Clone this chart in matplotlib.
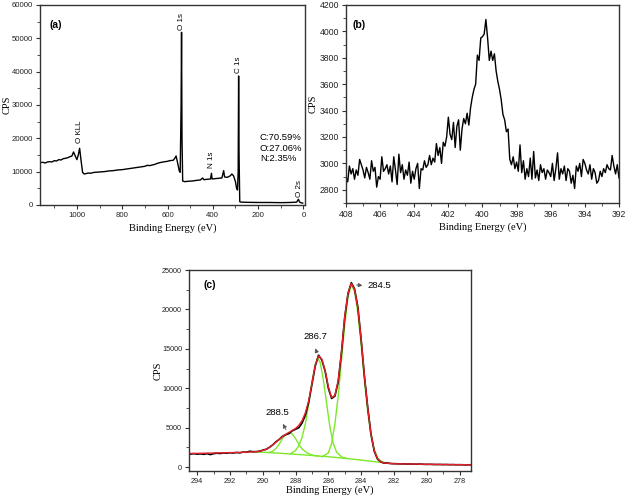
import numpy as np
import matplotlib
matplotlib.use("Agg")
import matplotlib.pyplot as plt
from matplotlib.ticker import MultipleLocator

# ─── (a) survey spectrum ───────────────────────────────────────────
survey_be = [1163, 1150, 1140, 1130, 1120, 1110, 1100, 1090, 1080, 1070,
             1060, 1050, 1040, 1030, 1022, 1015, 1008, 1000, 994, 988,
             982, 975, 968, 960, 950, 940, 930, 920, 900, 880,
             860, 840, 820, 800, 780, 760, 740, 720, 700, 690,
             680, 660, 640, 620, 600, 590, 575, 568, 562, 555,
             548, 544, 540, 538, 536, 533, 525, 510, 490, 470,
             455, 445, 440, 425, 410, 406, 403, 390, 375, 360,
             352, 348, 335, 322, 316, 308, 300, 295, 291, 288,
             286, 284, 281, 275, 250, 200, 150, 100, 60, 30,
             22, 17, 10, 3]
survey_cps = [12700, 12800, 12600, 12900, 13000, 12900, 13300, 13200, 13600, 13500,
              13900, 14000, 14200, 14500, 14700, 15900, 14800, 13600, 15000, 17000,
              13500, 9800, 9300, 9400, 9600, 9500, 9700, 9800, 9900, 10000,
              10200, 10300, 10500, 10600, 10800, 11000, 11200, 11400, 11600, 11900,
              11800, 12100, 12600, 12900, 13100, 13300, 13400, 14000, 14700, 12500,
              10200, 9800, 30000, 51800, 20000, 7200, 7000, 7100, 7200, 7400,
              7500, 8100, 7600, 7700, 7800, 9500, 7800, 7900, 8000, 8100,
              10300, 8400, 8300, 8800, 9300, 8700, 7000, 5000, 4500, 10000,
              38700, 15000, 1000, 850, 800, 750, 750, 700, 750, 850,
              1700, 900, 650, 550]
survey_labels = ["O KLL", "O 1s", "N 1s", "C 1s", "O 2s"]
survey_label_be = [988, 538, 405, 285, 19]
survey_label_cps = [18500, 52500, 11000, 39500, 2300]
composition = ["C:70.59%", "O:27.06%", "N:2.35%"]

# ─── (b) N 1s high resolution ──────────────────────────────────────
n1s_be = np.round(np.arange(408.0, 391.95, -0.1), 1)
n1s_cps = [2900, 2860, 2980, 2920, 2960, 2880, 2950, 2910, 3030, 2990,
           2950, 2890, 2970, 2930, 2880, 3020, 2940, 2970, 2820, 2900,
           2880, 3050, 2940, 2960, 2990, 2920, 2980, 2860, 3050, 2950,
           2840, 3070, 2930, 2990, 2880, 2950, 2910, 3010, 2850, 2940,
           2880, 2960, 3000, 2810, 2960, 2950, 3020, 2970, 2990, 3060,
           2990, 3040, 3010, 3150, 3060, 3120, 3000, 3160, 3130, 3200,
           3350, 3220, 3180, 3310, 3120, 3280, 3330, 3100, 3260, 3340,
           3300, 3380, 3290, 3420, 3500, 3560, 3600, 3820, 3780, 3950,
           3960, 3980, 4090, 3950, 3780, 3850, 3780, 3830, 3700, 3620,
           3560, 3480, 3370, 3330, 3240, 3260, 3030, 2990, 3050, 2960,
           3010, 2940, 3140, 2930, 3020, 2880, 2960, 2900, 3040, 2880,
           3090, 2890, 2950, 2870, 2990, 2930, 2960, 2880, 2950, 2930,
           2900, 3000, 2870, 2960, 3080, 2880, 2960, 2920, 2980, 2870,
           2960, 2940, 2850, 2910, 2810, 2980, 2940, 3000, 2900, 3030,
           3000, 2950, 2920, 2990, 2880, 2960, 2930, 2850, 2870, 2940,
           2900, 2960, 2930, 2990, 2960, 2950, 3060, 2980, 2920, 2990,
           2890]

# ─── (c) C 1s high resolution + fit ────────────────────────────────
c1s_be = np.round(np.arange(295.0, 276.95, -0.2), 1)
c1s_cps = [1750, 1700, 1720, 1650, 1700, 1640, 1680, 1620, 1700, 1580,
           1700, 1760, 1720, 1800, 1760, 1820, 1780, 1850, 1800, 1900,
           1880, 2000, 1950, 1960, 2000, 2150, 2250, 2500, 2800, 3200,
           3500, 3900, 4100, 4250, 4600, 4800, 5000, 5600, 6600, 8200,
           10500, 12800, 14200, 13600, 12200, 10000, 8700, 9000, 10800, 14500,
           19000, 22000, 23400, 22600, 20300, 16200, 11500, 7600, 4200, 2000,
           1000, 650, 500, 520, 450, 430, 420, 400, 410, 380,
           390, 370, 360, 380, 350, 340, 350, 330, 320, 330,
           310, 320, 300, 310, 290, 300, 290, 280, 290, 280,
           270]

fit_be = [295.0, 294.0, 293.0, 292.0, 291.0, 290.4, 290.0,
          289.8, 289.6, 289.4, 289.2, 289.0, 288.8, 288.6, 288.4, 288.2, 288.0,
          287.8, 287.6, 287.4, 287.2, 287.0, 286.8, 286.6, 286.4, 286.2, 286.0,
          285.8, 285.6, 285.4, 285.2, 285.0, 284.8, 284.6, 284.4, 284.2, 284.0,
          283.8, 283.6, 283.4, 283.2, 283.0, 282.8, 282.6, 282.4,
          282.0, 280.0, 277.0]
fit_env = [1720, 1740, 1780, 1830, 1890, 1950, 2100,
           2250, 2480, 2800, 3150, 3500, 3850, 4150, 4400, 4650, 4900,
           5300, 5900, 6900, 8400, 10600, 12900, 14100, 13700, 12300, 10200,
           8800, 9100, 11000, 14600, 19100, 22100, 23300, 22500, 20200, 16200,
           11600, 7500, 4200, 2100, 1050, 640, 520, 470,
           420, 350, 280]

bg_be = [290.8, 290.0, 289.0, 288.0, 287.0, 286.0, 285.0, 284.0, 283.0, 282.4]
bg_cps = [1980, 1880, 1760, 1620, 1470, 1310, 1110, 890, 640, 500]

p1_be = [289.6, 289.4, 289.2, 289.0, 288.8, 288.6, 288.4, 288.2, 288.0,
         287.8, 287.6, 287.3, 287.0, 286.6]
p1_cps = [1850, 2000, 2350, 2900, 3600, 4150, 4380, 4200, 3600,
          2900, 2300, 1800, 1520, 1380]

p2_be = [288.3, 288.0, 287.8, 287.6, 287.4, 287.2, 287.0, 286.8, 286.65,
         286.5, 286.3, 286.1, 285.9, 285.7, 285.5, 285.2, 284.9]
p2_cps = [1700, 2100, 2700, 3800, 5500, 8000, 10800, 13000, 13800,
          13300, 11000, 8000, 5000, 3000, 1900, 1300, 1100]

p3_be = [286.4, 286.0, 285.8, 285.6, 285.4, 285.2, 285.0, 284.8, 284.6, 284.4,
         284.2, 284.0, 283.8, 283.6, 283.4, 283.2, 283.0, 282.8, 282.6]
p3_cps = [1280, 1800, 3000, 5500, 9000, 13500, 18000, 21600, 23100, 22300,
          19500, 15500, 11000, 7000, 4000, 2200, 1200, 750, 600]

peak_text = ["284.5", "286.7", "288.5"]

serif = ["Liberation Serif", "DejaVu Serif"]
sans = ["Liberation Sans", "DejaVu Sans"]
plt.rcParams['font.family'] = sans


def style_axes(ax, ticksize, xlab_y, ylab_x):
    for s in ax.spines.values():
        s.set_color('#333333')
        s.set_linewidth(1.0)
    ax.tick_params(which='both', direction='out', top=False, right=False,
                   colors='#333333', labelcolor='#222222')
    ax.tick_params(which='major', length=3, width=0.8, labelsize=ticksize, pad=2)
    ax.tick_params(which='minor', length=2, width=0.6)
    ax.set_ylabel('CPS', family=serif, fontsize=7.5)
    ax.set_xlabel('Binding Energy (eV)', family=serif, fontsize=7.5)
    # label coords: top of x label, right edge of y label (axes fraction)
    ax.xaxis.set_label_coords(0.5, xlab_y)
    ax.yaxis.set_label_coords(ylab_x, 0.5)


fig = plt.figure(figsize=(6.27, 4.98), dpi=100)

# (a)
ax_a = fig.add_axes([0.0638, 0.5884, 0.4226, 0.4016])
ax_a.plot(survey_be, survey_cps, color='black', lw=1.0)
ax_a.set_xlim(1163, -7)
ax_a.set_ylim(0, 60000)
ax_a.xaxis.set_major_locator(MultipleLocator(200))
ax_a.xaxis.set_minor_locator(MultipleLocator(100))
ax_a.yaxis.set_major_locator(MultipleLocator(10000))
ax_a.yaxis.set_minor_locator(MultipleLocator(5000))
style_axes(ax_a, 5.6, -0.09, -0.108)
for lab, bx, by in zip(survey_labels, survey_label_be, survey_label_cps):
    ax_a.text(bx, by, lab, rotation=90, ha='center', va='bottom', fontsize=5.8)
ax_a.text(192, 21500, "\n".join(composition), ha='left', va='top',
          fontsize=6.8, linespacing=1.2)
ax_a.text(1121, 54000, '(a)', fontweight='bold', fontsize=7.5, va='center')

# (b)
ax_b = fig.add_axes([0.5518, 0.5924, 0.4354, 0.3976])
ax_b.plot(n1s_be, n1s_cps, color='black', lw=1.0)
ax_b.set_xlim(408, 392)
ax_b.set_ylim(2700, 4200)
ax_b.xaxis.set_major_locator(MultipleLocator(2))
ax_b.xaxis.set_minor_locator(MultipleLocator(1))
ax_b.yaxis.set_major_locator(MultipleLocator(200))
ax_b.yaxis.set_minor_locator(MultipleLocator(100))
style_axes(ax_b, 6.2, -0.10, -0.103)
ax_b.text(407.6, 4050, '(b)', fontweight='bold', fontsize=7.5, va='center')

# (c)
ax_c = fig.add_axes([0.3014, 0.0542, 0.4498, 0.4036])
green = '#7de82a'
ax_c.plot(bg_be, bg_cps, color=green, lw=1.0)
ax_c.plot(p1_be, p1_cps, color=green, lw=1.0)
ax_c.plot(p2_be, p2_cps, color=green, lw=1.0)
ax_c.plot(p3_be, p3_cps, color=green, lw=1.0)
ax_c.plot(c1s_be, c1s_cps, color='black', lw=1.2)
ax_c.plot(fit_be, fit_env, color='#e8202a', lw=1.0)
ax_c.set_xlim(294.5, 277.3)
ax_c.set_ylim(-500, 25000)
ax_c.xaxis.set_major_locator(MultipleLocator(2))
ax_c.xaxis.set_minor_locator(MultipleLocator(1))
ax_c.yaxis.set_major_locator(MultipleLocator(5000))
ax_c.yaxis.set_minor_locator(MultipleLocator(2500))
style_axes(ax_c, 5.2, -0.07, -0.092)
ax_c.text(293.6, 23100, '(c)', fontweight='bold', fontsize=7.5, va='center')

arrow = dict(arrowstyle='-|>', color='#555555', lw=0.6, mutation_scale=6)
ax_c.annotate('', xy=(283.75, 23000), xytext=(284.45, 23150), arrowprops=arrow)
ax_c.text(283.6, 23000, peak_text[0], fontsize=6.8, va='center', ha='left')
ax_c.annotate('', xy=(286.85, 15400), xytext=(286.65, 14200), arrowprops=arrow)
ax_c.text(286.8, 16600, peak_text[1], fontsize=6.8, va='center', ha='center')
ax_c.annotate('', xy=(288.85, 5800), xytext=(288.5, 4400), arrowprops=arrow)
ax_c.text(289.1, 6900, peak_text[2], fontsize=6.8, va='center', ha='center')

fig.savefig('out.png', dpi=100)
